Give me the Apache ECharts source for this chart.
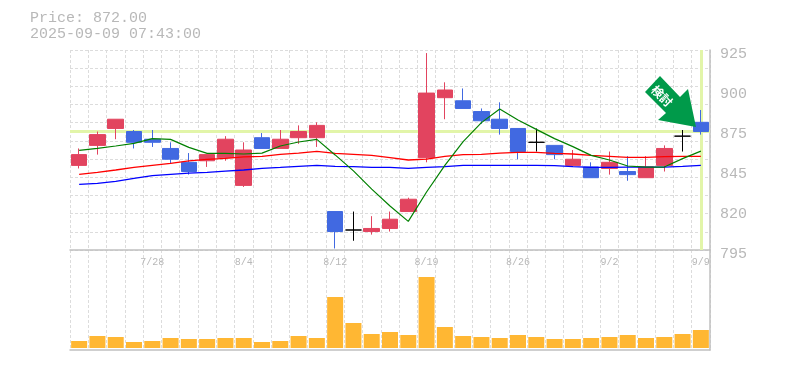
<!DOCTYPE html>
<html>
<head>
<meta charset="utf-8">
<style>html,body{margin:0;padding:0;background:#fff}#c{width:785px;height:370px}</style>
<script src="https://cdn.jsdelivr.net/npm/echarts@6/dist/echarts.min.js"></script>
</head>
<body>
<div id="c"></div>
<script>
const dates = ['7/22','7/23','7/24','7/25','7/28','7/29','7/30','7/31','8/1','8/4','8/5','8/6','8/7','8/8','8/12','8/13','8/14','8/15','8/18','8/19','8/20','8/21','8/22','8/25','8/26','8/27','8/28','8/29','9/1','9/2','9/3','9/4','9/5','9/8','9/9'];
const shownDates = ['7/28','8/4','8/12','8/19','8/26','9/2','9/9'];
// open, close, low, high
const opens  = [850,863,874,872,867,861,852,853,855,837,868,861,868,868,820,808,807,809,820,855,894,892,885,880,874,865,863,850,849,848,846,842,850,869,878];
const closes = [857,870,880,865,865,854,846,857,867,860,861,867,872,876,807,808,809,815,828,897,899,887,879,874,859,865,857,854,842,852,844,849,861,869,872];
const lows   = [848,857,867,861,862,851,844,849,853,836,861,861,864,862,796,801,805,807,820,852,880,887,877,870,854,859,854,850,842,844,840,842,846,859,870];
const highs  = [861,872,880,873,873,865,858,857,869,865,871,873,876,878,820,820,817,820,829,923,904,900,887,891,874,874,863,860,852,859,856,856,863,873,886];
const maGreen = [859.8,861.1,862.6,864.3,867.4,866.9,861.7,857.8,857.8,857.4,858,862.6,865.2,866.9,856.8,846.4,834.6,823.6,813.6,832.7,850,865.4,877.8,886.6,879.5,873.4,867.4,862.2,856.5,853.5,849.6,848.9,848.9,854.4,859.3];
const maRed = [844.2,845.5,847,848.7,850,851.3,852.9,853.9,854.6,855.5,855.9,857.2,858,859.1,857.8,857.2,856.5,855,853.5,854.1,855.9,857,857.2,858,858.5,858.5,857.8,857.4,856.5,855.9,855.2,855.2,855.7,855.9,855.9];
const maBlue = [837.7,838.3,839.6,841.6,843.3,844.2,845,845.5,846.3,847,848.1,848.7,849.4,850,849.4,849.2,848.7,848.7,848.1,848.7,849.2,850,850,850,850,850,849.8,849.2,848.7,848.7,848.9,848.9,848.9,849.4,850];
const volumes = [7,12,11,6,7,10,9,9,10,10,6,7,12,10,51,25,14,16,13,71,21,12,11,10,13,11,9,9,10,11,13,10,11,14,18];
const tickValues = [925,899,873,847,821,795];
const tickLabels = ['925','900','875','845','820','795'];
const currentPrice = 872;
const titleLines = ['Price: 872.00','2025-09-09 07:43:00'];
const arrowText = '検討';

const MONO = '"Liberation Mono","DejaVu Sans Mono",monospace';
const GRAY = '#b8b8b8';
const gridLine = {show:true, interval:0, lineStyle:{color:'#dcdcdc', type:[3,2], width:1}};
const frame = {show:true, onZero:false, lineStyle:{color:'#c0c0c0', width:1.5}};
const candles = opens.map((o,i)=>[o,closes[i],lows[i],highs[i]]);
const line = (data,color,z,width)=>({type:'line',data,xAxisIndex:0,yAxisIndex:0,showSymbol:false,symbol:'none',silent:true,z,animation:false,lineStyle:{color,width}});

const chart = echarts.init(document.getElementById('c'),null,{renderer:'canvas'});
chart.setOption({
  animation:false,
  backgroundColor:'#fff',
  title:{text:titleLines.join('\n'),left:30,top:10,padding:0,textStyle:{fontFamily:MONO,fontSize:15,fontWeight:'normal',color:GRAY,lineHeight:16}},
  grid:[
    {left:70,top:50,width:640,height:200},
    {left:70,top:250,width:640,height:100}
  ],
  xAxis:[
    {type:'category',gridIndex:0,data:dates,boundaryGap:true,axisLine:frame,axisTick:{show:false},splitLine:gridLine,
     axisLabel:{interval:(i)=>shownDates.includes(dates[i]),margin:7,fontFamily:MONO,fontSize:10,color:GRAY,hideOverlap:false}},
    {type:'category',gridIndex:1,data:dates,boundaryGap:true,axisLine:frame,axisTick:{show:false},splitLine:gridLine,axisLabel:{show:false}}
  ],
  yAxis:[
    {type:'value',gridIndex:0,position:'right',min:795,max:925,scale:true,axisLine:frame,axisTick:{show:false},splitLine:{show:false},
     axisLabel:{customValues:tickValues,formatter:(v)=>tickLabels[tickValues.indexOf(v)],margin:10,verticalAlign:'top',lineHeight:8,fontFamily:MONO,fontSize:15,color:GRAY,showMinLabel:true,showMaxLabel:true}},
    {type:'value',gridIndex:0,position:'left',min:0,max:11,interval:1,axisLine:{show:false},axisTick:{show:false},axisLabel:{show:false},splitLine:{show:true,lineStyle:gridLine.lineStyle}},
    {type:'value',gridIndex:1,position:'right',min:-2,max:98,axisLine:frame,axisTick:{show:false},axisLabel:{show:false},splitLine:{show:false}}
  ],
  series:[
    {type:'line',data:[],xAxisIndex:0,yAxisIndex:0,z:1,silent:true,
     markLine:{z:1,silent:true,symbol:'none',label:{show:false},animation:false,
       lineStyle:{color:'#e2f5a9',width:3,type:'solid'},
       data:[{yAxis:currentPrice},{xAxis:dates[dates.length-1]}]}},
    {type:'candlestick',data:candles,xAxisIndex:0,yAxisIndex:0,barWidth:16,z:3,silent:true,
     itemStyle:{color:'#e2445f',color0:'#4169e1',borderColor:'#e2445f',borderColor0:'#4169e1',borderColorDoji:'#000000',borderWidth:1}},
    line(maBlue,'#0000ff',4,1.3),
    line(maRed,'#ff0000',4,1.3),
    line(maGreen,'#008000',4,1.2),
    {type:'bar',data:volumes,xAxisIndex:1,yAxisIndex:2,barWidth:16,silent:true,z:3,itemStyle:{color:'#ffb733'}}
  ],
  graphic:[
    {type:'polygon',z:100,silent:true,shape:{points:[[660,76],[645,92],[666,113],[658,120],[696,127],[688,89],[680,97]]},style:{fill:'#009a4a'}},
    {type:'text',z:101,silent:true,x:662,y:96,rotation:-Math.PI/4,style:{text:arrowText,fontFamily:'"Noto Sans CJK JP"',fontSize:12,fontWeight:'bold',fill:'#fff',align:'center',verticalAlign:'middle'}}
  ]
});
</script>
</body>
</html>
